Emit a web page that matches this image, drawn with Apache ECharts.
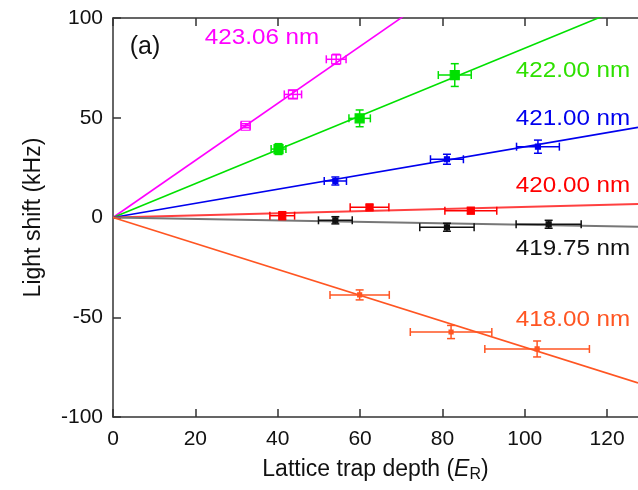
<!DOCTYPE html>
<html>
<head>
<meta charset="utf-8">
<script src="https://cdn.jsdelivr.net/npm/echarts@6/dist/echarts.min.js"></script>
<style>
  html, body { margin: 0; padding: 0; background: #fff; }
  #main { width: 638px; height: 490px; }
</style>
</head>
<body>
<div id="main"></div>
<script>
// axes
var xMax = 127.5
var xTicks = [0, 20, 40, 60, 80, 100, 120]
var yTicks = [-100, -50, 0, 50, 100]

// measured points: x, y, x error, y error
var wl423X = [32.2, 43.7, 54.2]
var wl423Y = [46.0, 61.7, 79.3]
var wl423XErr = [1.1, 2.1, 2.4]
var wl423YErr = [1.0, 2.0, 2.5]

var wl422X = [40.2, 59.9, 83.0]
var wl422Y = [34.3, 49.7, 71.4]
var wl422XErr = [1.8, 2.6, 4.0]
var wl422YErr = [2.7, 4.2, 5.7]

var wl421X = [54.0, 81.1, 103.2]
var wl421Y = [18.3, 29.2, 35.5]
var wl421XErr = [2.7, 4.0, 5.2]
var wl421YErr = [2.0, 2.5, 3.3]

var wl420X = [41.1, 62.3, 86.9]
var wl420Y = [0.9, 5.1, 3.4]
var wl420XErr = [3.0, 4.7, 6.3]
var wl420YErr = [2.0, 1.2, 1.5]

var wl41975X = [54.0, 81.1, 105.8]
var wl41975Y = [-1.4, -4.9, -3.4]
var wl41975XErr = [4.1, 6.6, 7.9]
var wl41975YErr = [1.8, 2.0, 2.0]

var wl418X = [59.9, 82.1, 103.0]
var wl418Y = [-38.8, -57.4, -65.9]
var wl418XErr = [7.2, 9.9, 12.7]
var wl418YErr = [2.5, 3.3, 4.0]

// fitted lines start at (0, 0), end value at x = xMax
var fitEnd = [182.3, 108.2, 45.2, 6.8, -4.6, -82.9]
var labels = ["423.06 nm", "422.00 nm", "421.00 nm", "420.00 nm", "419.75 nm", "418.00 nm"]

var sets = [
  [wl423X, wl423Y, wl423XErr, wl423YErr],
  [wl422X, wl422Y, wl422XErr, wl422YErr],
  [wl421X, wl421Y, wl421XErr, wl421YErr],
  [wl420X, wl420Y, wl420XErr, wl420YErr],
  [wl41975X, wl41975Y, wl41975XErr, wl41975YErr],
  [wl418X, wl418Y, wl418XErr, wl418YErr]
]

// styles
var colors = ["#ff00ff", "#00e000", "#0000ee", "#ff0000", "#111111", "#ff5522"]
var lineColors = ["#ff00ff", "#00e000", "#0000ee", "rgba(255,0,0,0.75)", "#777777", "#ff5522"]
var markers = [
  { size: 9, fill: "none" },
  { size: 9, fill: null },
  { size: 5, fill: null },
  { size: 7, fill: null },
  { size: 5, fill: null },
  { size: 4, fill: null }
]
var labelPos = [[262, 38], [573, 71], [573, 119], [573, 186], [573, 249], [573, 320]]

var font = "'Liberation Sans', Arial, Helvetica, sans-serif"

function makeRender(i) {
  var color = colors[i]
  var mk = markers[i]
  return function (params, api) {
    var x = api.value(0), y = api.value(1), xe = api.value(2), ye = api.value(3)
    var c = api.coord([x, y])
    var l = api.coord([x - xe, y])
    var r = api.coord([x + xe, y])
    var t = api.coord([x, y + ye])
    var b = api.coord([x, y - ye])
    var cap = 4
    var st = { stroke: color, lineWidth: 1.5 }
    var kids = [
      { type: "line", shape: { x1: l[0], y1: c[1], x2: r[0], y2: c[1] }, style: st },
      { type: "line", shape: { x1: l[0], y1: c[1] - cap, x2: l[0], y2: c[1] + cap }, style: st },
      { type: "line", shape: { x1: r[0], y1: c[1] - cap, x2: r[0], y2: c[1] + cap }, style: st },
      { type: "line", shape: { x1: c[0], y1: t[1], x2: c[0], y2: b[1] }, style: st },
      { type: "line", shape: { x1: c[0] - cap, y1: t[1], x2: c[0] + cap, y2: t[1] }, style: st },
      { type: "line", shape: { x1: c[0] - cap, y1: b[1], x2: c[0] + cap, y2: b[1] }, style: st },
      {
        type: "rect",
        shape: { x: c[0] - mk.size / 2, y: c[1] - mk.size / 2, width: mk.size, height: mk.size },
        style: { fill: mk.fill || color, stroke: color, lineWidth: 1.2 }
      }
    ]
    return { type: "group", children: kids }
  }
}

var series = []
sets.forEach(function (s, i) {
  series.push({
    type: "line",
    data: [[0, 0], [xMax, fitEnd[i]]],
    symbol: "none",
    clip: true,
    silent: true,
    lineStyle: { color: lineColors[i], width: i === 3 || i === 4 ? 2 : 1.6 },
    z: 2
  })
})
sets.forEach(function (s, i) {
  var data = s[0].map(function (x, k) {
    return [x, s[1][k], s[2][k], s[3][k]]
  })
  series.push({
    type: "custom",
    renderItem: makeRender(i),
    data: data,
    clip: true,
    z: 3
  })
})

var graphic = labels.map(function (txt, i) {
  return {
    type: "text",
    x: labelPos[i][0],
    y: labelPos[i][1],
    scaleX: 1.1,
    style: {
      text: txt,
      fill: colors[i] === "#00e000" ? "#2ee000" : colors[i],
      fontSize: 22,
      fontFamily: font,
      align: "center",
      verticalAlign: "middle"
    },
    z: 10
  }
})
graphic.push({
  type: "text",
  x: 145,
  y: 47,
  style: {
    text: "(a)",
    fill: "#111",
    fontSize: 25,
    fontFamily: font,
    align: "center",
    verticalAlign: "middle"
  },
  z: 10
})

var axisLine = { show: true, onZero: false, lineStyle: { color: "#333", width: 1.5 } }

var chartDom = document.getElementById("main")
var myChart = echarts.init(chartDom)
var option = {
  animation: false,
  backgroundColor: "#fff",
  grid: { left: 113, right: 0, top: 18, bottom: 73, containLabel: false },
  xAxis: [
    {
      type: "value",
      min: 0,
      max: xMax,
      position: "bottom",
      axisLine: axisLine,
      axisTick: { inside: true, length: 8, customValues: xTicks, lineStyle: { color: "#333", width: 1.5 } },
      axisLabel: { customValues: xTicks, fontSize: 21, fontFamily: font, color: "#111", margin: 12 },
      splitLine: { show: false },
      name: "Lattice trap depth ({i|E}{sub|R})",
      nameLocation: "middle",
      nameGap: 40,
      nameTextStyle: {
        fontSize: 23,
        fontFamily: font,
        color: "#111",
        rich: {
          i: { fontSize: 23, fontStyle: "italic", fontFamily: font, color: "#111" },
          sub: { fontSize: 16, fontFamily: font, color: "#111", verticalAlign: "bottom", padding: [10, 0, 0, 0] }
        }
      }
    },
    {
      type: "value",
      min: 0,
      max: xMax,
      position: "top",
      axisLine: axisLine,
      axisTick: { inside: true, length: 8, customValues: xTicks, lineStyle: { color: "#333", width: 1.5 } },
      axisLabel: { show: false },
      splitLine: { show: false }
    }
  ],
  yAxis: {
    type: "value",
    min: -100,
    max: 100,
    interval: 50,
    axisLine: axisLine,
    axisTick: { inside: true, length: 8, customValues: yTicks, lineStyle: { color: "#333", width: 1.5 } },
    axisLabel: { fontSize: 21, fontFamily: font, color: "#111", margin: 10 },
    splitLine: { show: false },
    name: "Light shift (kHz)",
    nameLocation: "middle",
    nameGap: 68,
    nameTextStyle: { fontSize: 23, fontFamily: font, color: "#111" }
  },
  series: series,
  graphic: graphic
}
option && myChart.setOption(option)
</script>
</body>
</html>
